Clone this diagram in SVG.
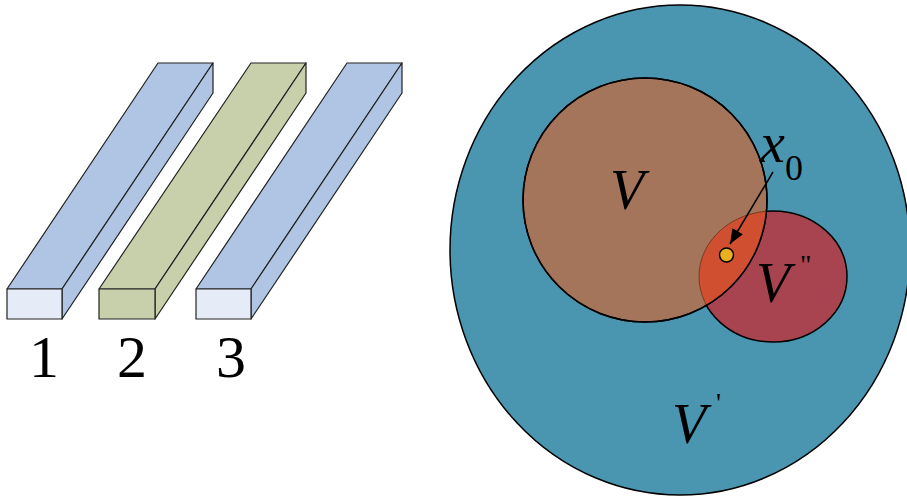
<svg xmlns="http://www.w3.org/2000/svg" width="907" height="496" viewBox="0 0 907 496">
<style>
text{font-family:"Times New Roman","Liberation Serif","DejaVu Serif",serif;fill:#000}
.i{font-style:italic}
.e{stroke:#000;stroke-width:1.5}
.b{stroke:#222;stroke-width:1.2;stroke-linejoin:round}
</style>
<defs>
<marker id="ah" viewBox="0 0 10 10" refX="10" refY="5" markerWidth="10" markerHeight="8" orient="auto" markerUnits="strokeWidth" preserveAspectRatio="none">
<path d="M0,0 L10,5 L0,10 z" fill="#000"/>
</marker>
<clipPath id="cv"><circle cx="645" cy="200" r="122"/></clipPath>
</defs>
<rect width="907" height="496" fill="#fff"/>
<g id="bar1">
<polygon class="b" points="7,289 158,63 213,63 62,289" fill="#b0c4e4"/>
<polygon class="b" points="62,289 213,63 213,93 62,319" fill="#b0c4e4"/>
<rect class="b" x="7" y="289" width="55" height="30" fill="#e6ecf7"/>
<text x="44" y="377" font-size="60" text-anchor="middle">1</text>
</g>
<g id="bar2">
<polygon class="b" points="99,289 251,63 306,63 155,289" fill="#c8cfab"/>
<polygon class="b" points="155,289 306,63 306,93 155,319" fill="#c8cfab"/>
<rect class="b" x="99" y="289" width="56" height="30" fill="#c8cfab"/>
<text x="132" y="377" font-size="60" text-anchor="middle">2</text>
</g>
<g id="bar3">
<polygon class="b" points="196,289 347,63 402,63 251,289" fill="#b0c4e4"/>
<polygon class="b" points="251,289 402,63 402,93 251,319" fill="#b0c4e4"/>
<rect class="b" x="196" y="289" width="55" height="30" fill="#e6ecf7"/>
<text x="231" y="377" font-size="60" text-anchor="middle">3</text>
</g>
<g id="Vprime">
<ellipse class="e" cx="680" cy="250" rx="230" ry="245" fill="#4a96b0"/>
<text class="i" x="672" y="443" font-size="56">V</text>
<text x="716" y="412" font-size="28">'</text>
</g>
<g id="Vdouble">
<ellipse class="e" cx="773" cy="276.5" rx="74" ry="65.5" fill="#a84450"/>
<text class="i" x="756" y="302" font-size="56">V</text>
<text x="800" y="274" font-size="28">"</text>
</g>
<g id="V">
<circle class="e" cx="645" cy="200" r="122" fill="#a4755a"/>
<ellipse cx="773" cy="276.5" rx="74" ry="65.5" fill="#d04f30" stroke="#7a3a20" stroke-width="1" clip-path="url(#cv)"/>
<circle cx="645" cy="200" r="122" fill="none" stroke="#000" stroke-width="1.5"/>
<text class="i" x="610" y="209" font-size="56">V</text>
</g>
<g id="x0">
<text class="i" x="760" y="162" font-size="56">x</text>
<text x="785" y="180" font-size="36">0</text>
<circle cx="726.5" cy="255" r="7" fill="#e8b020" stroke="#000" stroke-width="1.5"/>
</g>
<g id="connectors">
<line x1="773" y1="172" x2="730" y2="244" stroke="#000" stroke-width="1.5" marker-end="url(#ah)"/>
</g>
</svg>
